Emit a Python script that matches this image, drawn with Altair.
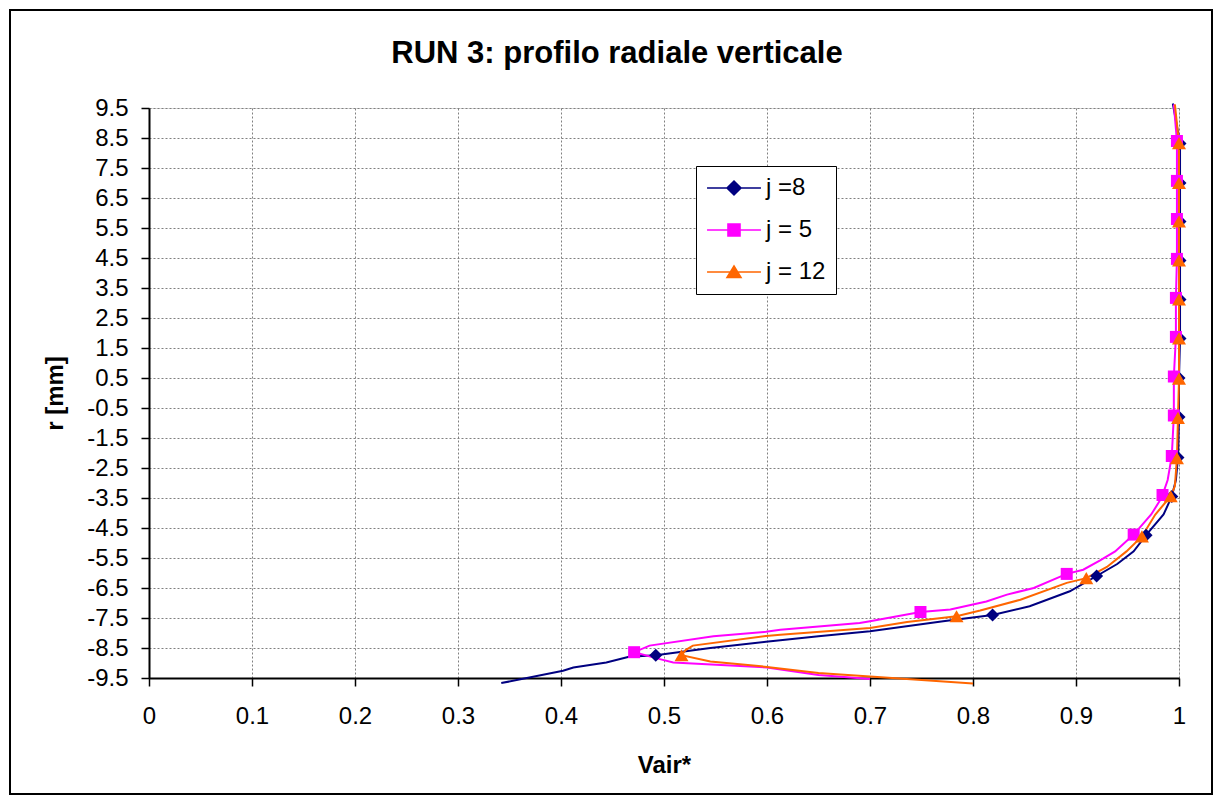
import altair as alt
import pandas as pd

# ---------------- data ----------------
chart_title = "RUN 3: profilo radiale verticale"
series_names = ["j =8", "j = 5", "j = 12"]
series_colors = ["#000080", "#FF00FF", "#FF6600"]

# j = 8 (line vertices, top to bottom)
j8_x = [0.994, 1.001, 1.001, 1.001, 1.001, 1.001, 1.001, 1.0, 1.0, 0.999, 0.997, 0.993, 0.985, 0.968,
        0.956, 0.940, 0.920, 0.894, 0.855, 0.819, 0.771, 0.700, 0.650, 0.599, 0.545, 0.492, 0.466,
        0.444, 0.412, 0.402, 0.342]
j8_r = [9.65, 8.32, 7.0, 5.72, 4.42, 3.12, 1.82, 0.5, -0.8, -2.15, -2.9, -3.45, -4.05, -4.74,
        -5.28, -5.7, -6.1, -6.61, -7.11, -7.4, -7.61, -7.94, -8.11, -8.29, -8.5, -8.74, -8.79,
        -8.98, -9.15, -9.26, -9.67]
j8_mx = [1.001, 1.001, 1.001, 1.001, 1.001, 1.001, 1.0, 1.0, 0.999, 0.993, 0.968, 0.920, 0.819, 0.492]
j8_mr = [8.32, 7.0, 5.72, 4.42, 3.12, 1.82, 0.5, -0.8, -2.15, -3.45, -4.74, -6.1, -7.4, -8.74]

# j = 5
j5_x = [0.995, 0.998, 0.998, 0.998, 0.998, 0.997, 0.997, 0.995, 0.995, 0.993, 0.989, 0.984, 0.981,
        0.973, 0.956, 0.938, 0.923, 0.907, 0.891, 0.859, 0.833, 0.813, 0.778, 0.749, 0.700, 0.690,
        0.613, 0.599, 0.548, 0.486, 0.471, 0.496, 0.509, 0.600, 0.650, 0.700]
j5_r = [9.62, 8.4, 7.07, 5.8, 4.47, 3.17, 1.87, 0.55, -0.75, -2.1, -2.9, -3.4, -3.61,
        -4.05, -4.72, -5.28, -5.59, -5.89, -6.03, -6.5, -6.72, -6.95, -7.22, -7.3, -7.61, -7.67,
        -7.89, -7.96, -8.11, -8.42, -8.64, -8.87, -8.98, -9.15, -9.4, -9.53]
j5_mx = [0.998, 0.998, 0.998, 0.998, 0.997, 0.997, 0.995, 0.995, 0.993, 0.984, 0.956, 0.891, 0.749, 0.471]
j5_mr = [8.4, 7.07, 5.8, 4.47, 3.17, 1.87, 0.55, -0.75, -2.1, -3.4, -4.72, -6.03, -7.3, -8.64]

# j = 12
j12_x = [0.996, 1.0, 1.0, 1.0, 1.0, 1.0, 1.0, 1.0, 0.999, 0.998, 0.996, 0.992, 0.977, 0.964,
         0.949, 0.930, 0.910, 0.891, 0.846, 0.807, 0.784, 0.736, 0.700, 0.613, 0.599, 0.528,
         0.521, 0.517, 0.545, 0.600, 0.650, 0.800]
j12_r = [9.62, 8.33, 7.0, 5.72, 4.42, 3.12, 1.82, 0.48, -0.83, -2.17, -3.1, -3.44, -4.05, -4.78,
         -5.28, -5.8, -6.17, -6.33, -6.89, -7.25, -7.44, -7.63, -7.83, -8.06, -8.1, -8.42,
         -8.57, -8.74, -8.95, -9.13, -9.33, -9.68]
j12_mx = [1.0, 1.0, 1.0, 1.0, 1.0, 1.0, 1.0, 0.999, 0.998, 0.992, 0.964, 0.910, 0.784, 0.517]
j12_mr = [8.33, 7.0, 5.72, 4.42, 3.12, 1.82, 0.48, -0.83, -2.17, -3.44, -4.78, -6.17, -7.44, -8.74]

x_ticks = [0, 0.1, 0.2, 0.3, 0.4, 0.5, 0.6, 0.7, 0.8, 0.9, 1]
y_ticks = [9.5, 8.5, 7.5, 6.5, 5.5, 4.5, 3.5, 2.5, 1.5, 0.5, -0.5, -1.5, -2.5, -3.5, -4.5,
           -5.5, -6.5, -7.5, -8.5, -9.5]

# ---------------- styling ----------------
FONT = "Liberation Sans"
marker_shapes = ["diamond", "square", "triangle-up"]
marker_sizes = [169, 144, 196]
legend_paths = [
    "M-2.45,0L2.45,0M0,-0.64L0.64,0L0,0.64L-0.64,0Z",
    "M-2.45,0L2.45,0M-0.55,-0.55L0.55,-0.55L0.55,0.55L-0.55,0.55Z",
    "M-2.45,0L2.45,0M0,-0.55L0.64,0.5L-0.64,0.5Z",
]

lines = [(j8_x, j8_r, j8_mx, j8_mr), (j5_x, j5_r, j5_mx, j5_mr), (j12_x, j12_r, j12_mx, j12_mr)]

x_enc = alt.X(
    "x:Q",
    scale=alt.Scale(domain=[0, 1], nice=False, zero=False),
    axis=alt.Axis(
        values=x_ticks, title="Vair*", labelExpr="toString(datum.value)",
        grid=True, gridColor="#808080", gridDash=[2, 2], gridWidth=1,
        domainColor="black", domainWidth=2, tickColor="black", tickWidth=1.5, tickSize=8,
        labelFont=FONT, labelFontSize=24, labelColor="black", labelPadding=18,
        labelFlush=False, labelOverlap=False,
        titleFont=FONT, titleFontSize=24, titleFontWeight="bold", titleColor="black",
        titleX=515, titleY=87, titleAlign="center", titleBaseline="middle",
    ),
)
y_enc = alt.Y(
    "r:Q",
    scale=alt.Scale(domain=[-9.5, 9.5], nice=False, zero=False),
    axis=alt.Axis(
        values=y_ticks, title="r [mm]", labelExpr="toString(datum.value)",
        grid=True, gridColor="#808080", gridDash=[2, 2], gridWidth=1,
        domainColor="black", domainWidth=2, tickColor="black", tickWidth=1.5, tickSize=8,
        labelFont=FONT, labelFontSize=24, labelColor="black", labelPadding=13,
        labelFlush=False, labelOverlap=False,
        titleFont=FONT, titleFontSize=24, titleFontWeight="bold", titleColor="black",
        titleX=-94, titleY=285, titleAngle=270, titleAlign="center", titleBaseline="middle",
    ),
)

layers = []

frame = alt.Chart(pd.DataFrame({"k": [0]})).mark_rect(
    filled=False, color="black", strokeWidth=2
).encode(x=alt.value(-139), x2=alt.value(1063), y=alt.value(-98), y2=alt.value(686))
layers.append(frame)

title_layer = alt.Chart(pd.DataFrame({"t": [chart_title]})).mark_text(
    font=FONT, fontSize=31, fontWeight="bold", color="black", align="center", baseline="alphabetic"
).encode(text="t:N", x=alt.value(468), y=alt.value(-45))
layers.append(title_layer)

for i, (lx, lr, mx, mr) in enumerate(lines):
    dl = pd.DataFrame({"x": lx, "r": lr, "o": list(range(len(lx)))})
    layers.append(
        alt.Chart(dl).mark_line(color=series_colors[i], strokeWidth=2, clip=False).encode(
            x=x_enc, y=y_enc, order=alt.Order("o:Q")
        )
    )
for i, (lx, lr, mx, mr) in enumerate(lines):
    dm = pd.DataFrame({"x": mx, "r": mr})
    layers.append(
        alt.Chart(dm).mark_point(
            shape=marker_shapes[i], size=marker_sizes[i], filled=True,
            color=series_colors[i], opacity=1, clip=False
        ).encode(x=x_enc, y=y_enc)
    )

# legend-only layer (no marks drawn)
leg_df = pd.DataFrame({"series": series_names})
legend = alt.Legend(
    title=None, orient="none", legendX=547, legendY=58, padding=10,
    strokeColor="black", fillColor="white",
    symbolSize=484, symbolStrokeWidth=1.5, symbolOffset=16,
    labelOffset=20, rowPadding=18,
    labelFont=FONT, labelFontSize=24, labelColor="black",
)
leg_layer = alt.Chart(leg_df).transform_filter("false").mark_point(filled=True, opacity=1).encode(
    fill=alt.Fill("series:N", scale=alt.Scale(domain=series_names, range=series_colors), legend=legend),
    stroke=alt.Stroke("series:N", scale=alt.Scale(domain=series_names, range=series_colors), legend=legend),
    shape=alt.Shape("series:N", scale=alt.Scale(domain=series_names, range=legend_paths), legend=legend),
)
layers.append(leg_layer)

chart = alt.layer(*layers).properties(
    width=1030, height=570,
    padding={"left": 141, "top": 100, "right": 35, "bottom": 118},
    autosize=alt.AutoSizeParams(type="none"),
).configure_view(stroke="#808080", strokeWidth=2).configure(background="white")

chart.save("out.html", embed_options={"renderer": "svg", "actions": False})
